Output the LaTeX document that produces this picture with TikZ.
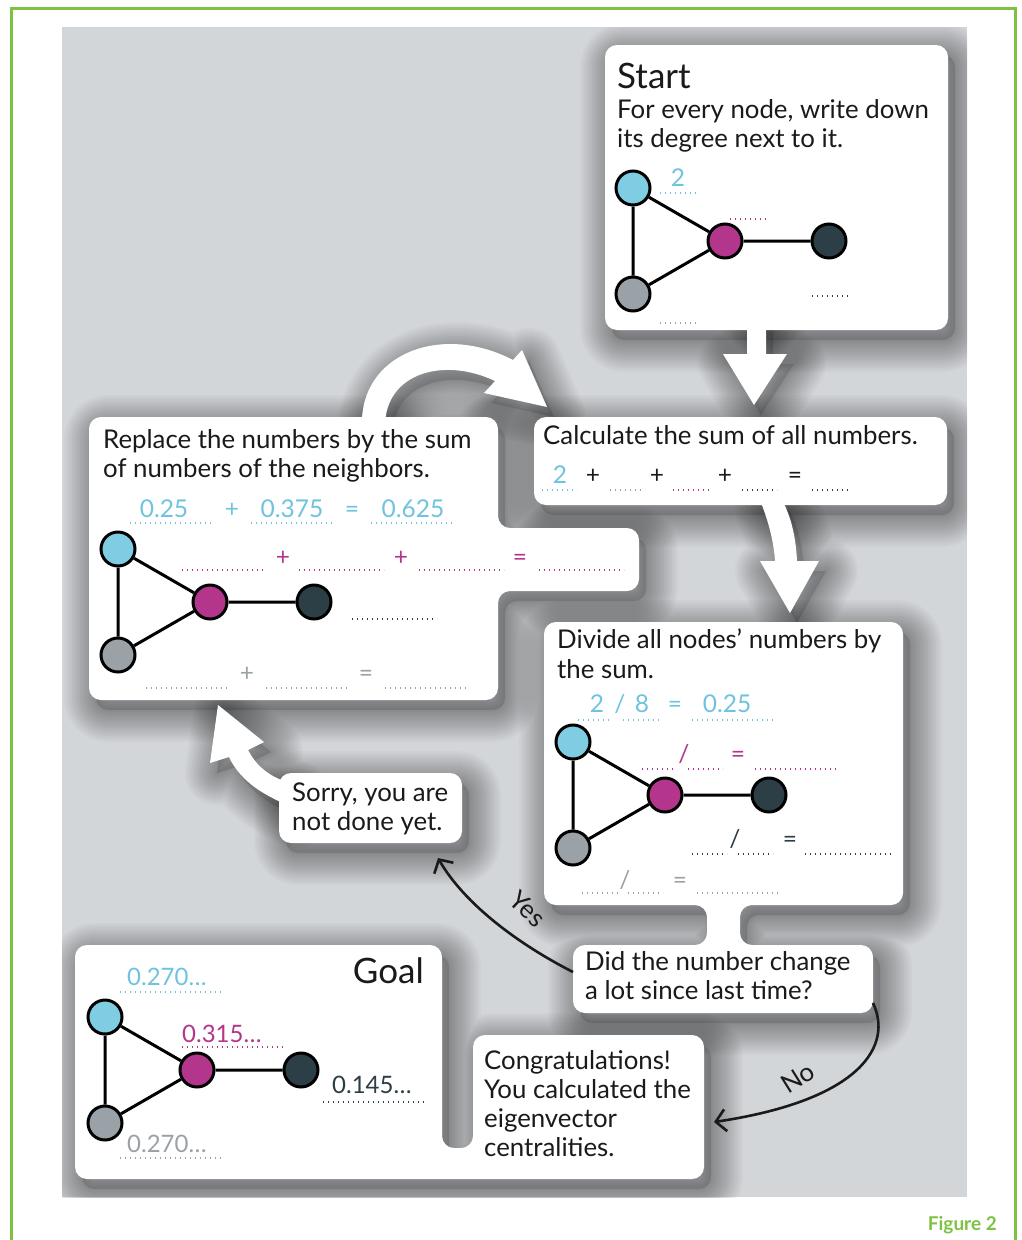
\documentclass[tikz,border=0pt]{standalone}
\usepackage{fontspec}
\setmainfont{Lato}
\usetikzlibrary{arrows.meta}

\definecolor{frame}{HTML}{7DC242}
\definecolor{panel}{HTML}{D3D6D9}
\definecolor{cblue}{HTML}{7FCDE3}
\definecolor{tblue}{HTML}{6FC3DF}
\definecolor{cmag}{HTML}{B3358C}
\definecolor{cdark}{HTML}{2C3E46}
\definecolor{cgray}{HTML}{9AA2A7}
\definecolor{ink}{HTML}{1A1A1A}

\tikzset{
  vtx/.style={circle, draw=black, line width=3pt, minimum size=34pt, inner sep=0},
  link/.style={line width=3pt, black},
  txt/.style={anchor=base west, inner sep=0, text=ink, font=\fontsize{25.8}{29}\selectfont},
  num/.style={anchor=base, inner sep=0, font=\fontsize{24.5}{29}\selectfont},
  val/.style={anchor=base west, inner sep=0, font=\fontsize{24}{29}\selectfont},
  head/.style={inner sep=0, text=ink, font=\fontsize{35}{38}\selectfont},
  dotline/.style={line width=1.4pt, dash pattern=on 1.4pt off 3.6pt},
  card/.style={fill=white, rounded corners=12pt},
  bigarrow/.style={fill=white, line join=round},
  flow/.style={line width=2.6pt, draw=ink, -{Straight Barb[length=10pt,width=22pt]}},
}

% soft shadow under a card or arrow
\newcommand{\softshadow}[2][rounded corners=12pt]{%
  \path[fill=black, fill opacity=.12, #1, shift={(7,10)}] #2;
  \foreach \w in {4,8,...,64}
    \path[draw=black, draw opacity=.022, line width=\w pt, line join=round,
      #1, shift={(7,10)}] #2;}

% small network: prefix, position of the blue node
\newcommand{\degnet}[3]{%
  \begin{scope}[shift={(#2,#3)}]
    \node[vtx, fill=cblue] (#1b) at (0,0) {};
    \node[vtx, fill=cmag] (#1m) at (92,53) {};
    \node[vtx, fill=cdark] (#1d) at (196,53) {};
    \node[vtx, fill=cgray] (#1g) at (0,106) {};
    \draw[link] (#1b) -- (#1m) -- (#1d) (#1b) -- (#1g) -- (#1m);
  \end{scope}}

% card outlines
\def\startcard{(605,45) rectangle (948,330)}
\def\calccard{(534,417) rectangle (947,505)}
\def\replcard{(89,417) -- (498,417) -- (498,528) -- (639,528) -- (639,591) --
  (498,591) -- (498,700) -- (89,700) -- cycle}
\def\divcard{(544,622) -- (903,622) -- (903,905) -- (740,905) -- (740,945) --
  (873,945) -- (873,1013) -- (573,1013) -- (573,945) -- (707,945) --
  (707,905) -- (544,905) -- cycle}
\def\sorrycard{(279,773) rectangle (462,843)}
\def\goalcard{(75,945) -- (442,945) -- (442,1148) -- (473,1148) --
  (473,1035) -- (704,1035) -- (704,1179) -- (75,1179) -- cycle}

% white arrows
\def\arrowdown{(747,320) -- (766,320) -- (766,354) -- (787,354) -- (754,405) --
  (723,354) -- (747,354) -- cycle}
\def\arrowbend{(760,500) .. controls (770,525) and (774,545) .. (775,561) --
  (760,561) -- (790,613) -- (819,561) -- (797,561) .. controls (796,540) and (792,518) .. (782,500) -- cycle}
\def\arrowback{(290,806) .. controls (258,793) and (239,778) .. (229,757) --
  (210,763) -- (218,705) -- (264,742) -- (248,750) .. controls (257,767) and (270,777) .. (290,783) -- cycle}
\def\arrowloop{(362,425) .. controls (360,355) and (440,322) .. (513,360) --
  (522,350) -- (547,407) -- (484,393) -- (495,381) .. controls (445,357) and (386,372) .. (385,425) -- cycle}

\begin{document}
\begin{tikzpicture}[x=1pt,y=-1pt]

\useasboundingbox (0,0) rectangle (1022,1240);

\draw[frame, line width=3pt] (11,1240) -- (11,8) -- (1015,8) -- (1015,1240);
\fill[panel] (62,27) rectangle (967,1197);

% shadows
\begin{scope}
\clip (62,27) rectangle (967,1197);
\softshadow[sharp corners]{\arrowdown}
\softshadow[sharp corners]{\arrowbend}
\softshadow[sharp corners]{\arrowback}
\softshadow[sharp corners]{\arrowloop}
\softshadow{\startcard}
\softshadow{\calccard}
\softshadow{\replcard}
\softshadow{\divcard}
\softshadow{\sorrycard}
\softshadow{\goalcard}
\end{scope}

% arrows and cards
\fill[bigarrow] \arrowdown;
\fill[bigarrow] \arrowbend;
\fill[bigarrow] \arrowback;
\fill[bigarrow] \arrowloop;
\path[card] \startcard;
\path[card] \calccard;
\path[card] \replcard;
\path[card] \divcard;
\path[card] \sorrycard;
\path[card] \goalcard;

% start
\node[head, anchor=base west] (starthead) at (617,88) {Start};
\node[txt] (start1) at (617,118) {For every node, write down};
\node[txt] (start2) at (617,147) {its degree next to it.};
\degnet{s}{633}{188}
\node[num, text=tblue] (sval) at (678,186) {2};
\draw[dotline, tblue] (660,193) -- (697,193);
\draw[dotline, cmag] (730,219) -- (767,219);
\draw[dotline, cdark] (812,296) -- (848,296);
\draw[dotline, cgray] (660,323) -- (697,323);

% sum
\node[txt] (calc1) at (543,444) {Calculate the sum of all numbers.};
\node[num, text=tblue] (cval) at (560,483) {2};
\node[num, text=ink] (cplus1) at (593,483) {+};
\node[num, text=ink] (cplus2) at (657,483) {+};
\node[num, text=ink] (cplus3) at (725,483) {+};
\node[num, text=ink] (ceq) at (795,483) {=};
\draw[dotline, tblue] (542,490) -- (577,490);
\draw[dotline, cgray] (610,490) -- (645,490);
\draw[dotline, cmag] (673,490) -- (710,490);
\draw[dotline, cdark] (742,490) -- (777,490);
\draw[dotline, cdark] (812,490) -- (848,490);

% replace
\node[txt] (repl1) at (103,448) {Replace the numbers by the sum};
\node[txt] (repl2) at (103,477) {of numbers of the neighbors.};
\degnet{r}{118}{549}
\node[num, text=tblue] (ra) at (164,517) {0.25};
\node[num, text=tblue] (rplus) at (232,517) {+};
\node[num, text=tblue] (rb) at (292,517) {0.375};
\node[num, text=tblue] (req) at (352,517) {=};
\node[num, text=tblue] (rc) at (413,517) {0.625};
\foreach \a/\b in {130/215,251/335,371/455}
  \draw[dotline, tblue] (\a,523) -- (\b,523);
\node[num, text=cmag] (rmp1) at (283,565) {+};
\node[num, text=cmag] (rmp2) at (401,565) {+};
\node[num, text=cmag] (rmeq) at (520,565) {=};
\foreach \a/\b in {182/266,299/384,419/504,539/624}
  \draw[dotline, cmag] (\a,570) -- (\b,570);
\draw[dotline, cdark] (352,619) -- (437,619);
\node[num, text=cgray] (rgp) at (247,681) {+};
\node[num, text=cgray] (rgeq) at (366,681) {=};
\foreach \a/\b in {146/230,266/350,385/469}
  \draw[dotline, cgray] (\a,688) -- (\b,688);

% divide
\node[txt] (div1) at (557,648) {Divide all nodes’ numbers by};
\node[txt] (div2) at (557,678) {the sum.};
\degnet{d}{573}{742}
\node[num, text=tblue] (dtwo) at (597,712) {2};
\node[num, text=tblue] (dsl) at (620,712) {/};
\node[num, text=tblue] (deight) at (642,712) {8};
\node[num, text=tblue] (deq) at (675,712) {=};
\node[num, text=tblue] (dres) at (727,712) {0.25};
\foreach \a/\b in {578/612,623/660,692/777}
  \draw[dotline, tblue] (\a,720) -- (\b,720);
\node[num, text=cmag] (dmsl) at (684,762) {/};
\node[num, text=cmag] (dmeq) at (738,762) {=};
\foreach \a/\b in {642/676,688/723,755/838}
  \draw[dotline, cmag] (\a,769) -- (\b,769);
\node[num, text=cdark] (ddsl) at (735,847) {/};
\node[num, text=cdark] (ddeq) at (790,847) {=};
\foreach \a/\b in {692/727,738/773,805/892}
  \draw[dotline, cdark] (\a,854) -- (\b,854);
\node[num, text=cgray] (dgsl) at (625,888) {/};
\node[num, text=cgray] (dgeq) at (680,888) {=};
\foreach \a/\b in {582/618,628/663,697/780}
  \draw[dotline, cgray] (\a,893) -- (\b,893);

% question and answers
\node[txt] (sorry1) at (292,801) {Sorry, you are};
\node[txt] (sorry2) at (292,830) {not done yet.};
\node[txt] (ask1) at (585,970) {Did the number change};
\node[txt] (ask2) at (585,999) {a lot since last time?};
\node[txt] (done1) at (484,1069) {Congratulations!};
\node[txt] (done2) at (484,1098) {You calculated the};
\node[txt] (done3) at (484,1127) {eigenvector};
\node[txt] (done4) at (484,1156) {centralities.};

% goal
\node[head, anchor=base east] (goalhead) at (424,983) {Goal};
\degnet{g}{105}{1017}
\node[val, text=tblue] (gb) at (127,985) {0.270…};
\draw[dotline, tblue] (120,992) -- (222,992);
\node[val, text=cmag] (gm) at (182,1042) {0.315…};
\draw[dotline, cmag] (182,1047) -- (283,1047);
\node[val, text=cdark] (gd) at (332,1093) {0.145…};
\draw[dotline, cdark] (323,1102) -- (425,1102);
\node[val, text=cgray] (gg) at (127,1152) {0.270…};
\draw[dotline, cgray] (120,1158) -- (222,1158);

% yes / no
\coordinate (askyes) at (573,972);
\coordinate (yesend) at (438,858);
\coordinate (askno) at (873,1003);
\coordinate (noend) at (714,1122);
\draw[flow] (askyes) .. controls (520,945) and (465,905) .. (yesend);
\draw[flow] (askno) .. controls (893,1045) and (862,1100) .. (noend);
\node[txt, anchor=center, rotate=-43] (yeslbl) at (528,909) {Yes};
\node[txt, anchor=center, rotate=32] (nolbl) at (798,1078) {No};

\node[anchor=base east, inner sep=0, text=frame, font=\bfseries\fontsize{19}{22}\selectfont] (figlbl) at (997,1230) {Figure 2};

\end{tikzpicture}
\end{document}
